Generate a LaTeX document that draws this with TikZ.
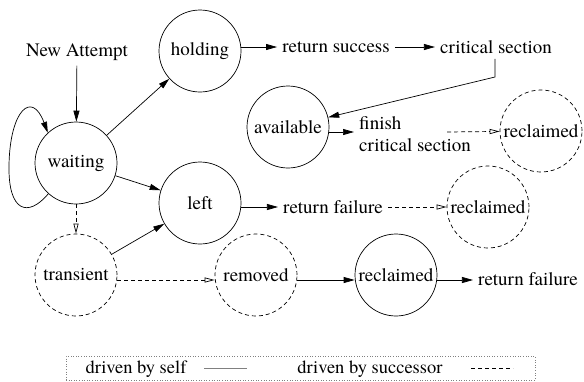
\documentclass[tikz,border=0pt]{standalone}
\usepackage{fontspec}
\setmainfont{texgyretermes}[Extension=.otf,UprightFont=*-regular,BoldFont=*-bold]
\usetikzlibrary{arrows.meta}
\begin{document}
\begin{tikzpicture}[x=1pt,y=-1pt,
  every node/.style={font=\rmfamily\fontsize{19}{22}\selectfont},
  st/.style={draw,circle,minimum size=82pt,inner sep=0pt,line width=0.7pt},
  dst/.style={st,dash pattern=on 4pt off 3pt},
  txt/.style={inner sep=5pt},
  arr/.style={line width=0.7pt,-{Triangle[length=11pt,width=6pt]}},
  darr/.style={line width=0.7pt,dash pattern=on 4pt off 3pt,-{Triangle[open,length=10pt,width=5pt]}},
  legend/.style={font=\rmfamily\fontsize{18.5}{22}\selectfont}]
\useasboundingbox (0,0) rectangle (584,381);
% states
\node[st] (holding) at (200,51) {holding};
\node[st] (waiting) at (76,163) {waiting};
\node[st] (left) at (200,203) {left};
\node[st] (avail) at (288,127) {available};
\node[dst] (rec1) at (541,131) {reclaimed};
\node[dst] (rec2) at (488,207) {reclaimed};
\node[dst] (trans) at (76,275) {transient};
\node[dst] (rem) at (256,275) {removed};
\node[st] (rec3) at (396,275) {reclaimed};
% texts
\node[txt] (na) at (77,52) {New Attempt};
\node[txt] (rs) at (336,47) {return success};
\node[txt] (cs) at (496,47) {critical section};
\node[txt,align=left,anchor=west] (fin) at (354,134) {finish\\critical section};
\node[txt] (rf1) at (333,207) {return failure};
\node[txt] (rf2) at (528,279) {return failure};
\coordinate (fs) at (447,132);
\coordinate (csb) at (495,77);
% connectors
\draw[arr] (na) -- (waiting);
\draw[arr] (waiting) -- (holding);
\draw[arr] (waiting) -- (left);
\draw[arr] (trans) -- (left);
\draw[darr] (waiting) -- (trans);
\draw[arr] (waiting.228) .. controls (28,218) and (8,212) .. (9,165)
  .. controls (10,110) and (32,90) .. (waiting.133);
\draw[arr] (holding.east |- rs.west) -- (rs.west);
\draw[arr] (rs.east) -- (cs.west);
\draw[arr] (cs.south -| csb) -- (csb) -- (avail);
\draw[arr] ([yshift=-5pt]avail.east) -- (fin.west |- 0,132);
\draw[darr] (fs) -- (rec1);
\draw[arr] (left.east |- rf1.west) -- (rf1.west);
\draw[darr] (rf1.east) -- (rec2);
\draw[darr] ([yshift=-5pt]trans.east) -- ([yshift=-5pt]rem.west);
\draw[arr] ([yshift=-5pt]rem.east) -- ([yshift=-5pt]rec3.west);
\draw[arr] ([yshift=-5pt]rec3.east) -- (rf2.west |- 0,280);
% legend
\node[draw=gray,dotted,line width=0.6pt,minimum width=469pt,minimum height=24pt,inner sep=0pt] (lg) at (300.5,368) {};
\node[legend] (l1) at (136,369) {driven by self};
\node[legend] (l2) at (370,369) {driven by successor};
\coordinate (a1) at (204,368);
\coordinate (a2) at (247,368);
\coordinate (b1) at (471,368);
\coordinate (b2) at (513,368);
\draw[gray,line width=0.8pt] (a1) -- (a2);
\draw[dash pattern=on 4pt off 3pt,line width=0.6pt] (b1) -- (b2);
\end{tikzpicture}
\end{document}
